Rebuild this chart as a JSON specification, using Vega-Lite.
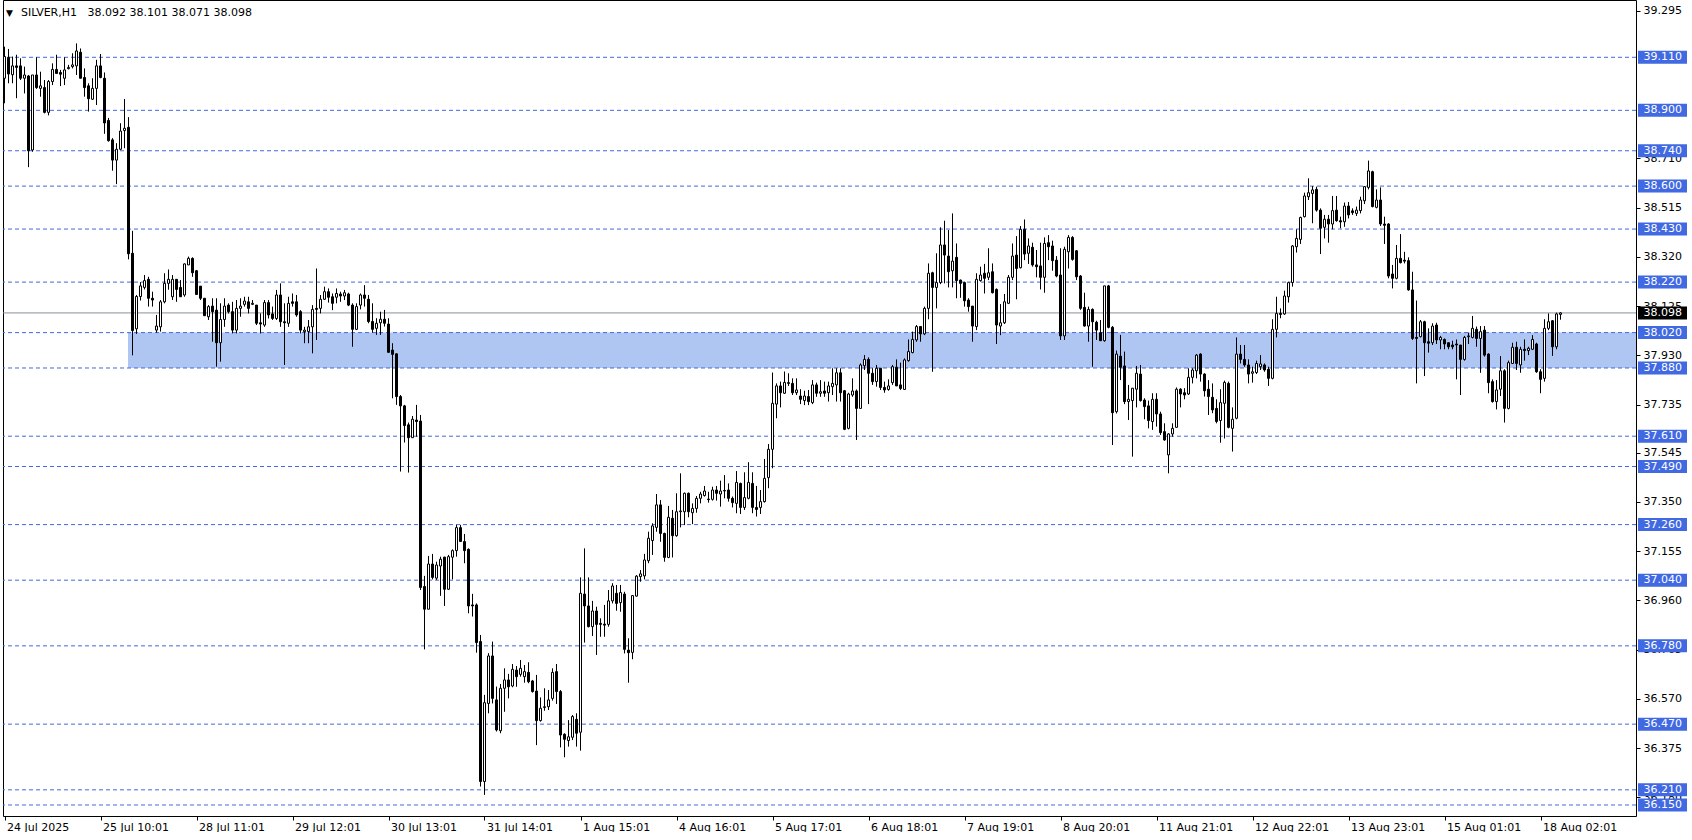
{
"$schema": "https://vega.github.io/schema/vega-lite/v6.json",
"width": 1633, "height": 816,
"padding": {"left": 2, "top": 0, "right": 0, "bottom": 0},
"autosize": {"type": "pad"},
"background": "white",
"config": {"view": {"stroke": "black", "strokeWidth": 1}, "font": "DejaVu Sans"},
"resolve": {"axis": {"x": "independent", "y": "independent"}},
"datasets": {
"levels": [{"v":39.110,"lab":"39.110"},{"v":38.900,"lab":"38.900"},{"v":38.740,"lab":"38.740"},{"v":38.600,"lab":"38.600"},{"v":38.430,"lab":"38.430"},{"v":38.220,"lab":"38.220"},{"v":38.020,"lab":"38.020"},{"v":37.880,"lab":"37.880"},{"v":37.610,"lab":"37.610"},{"v":37.490,"lab":"37.490"},{"v":37.260,"lab":"37.260"},{"v":37.040,"lab":"37.040"},{"v":36.780,"lab":"36.780"},{"v":36.470,"lab":"36.470"},{"v":36.210,"lab":"36.210"},{"v":36.150,"lab":"36.150"}],
"bars": [
{"i":0,"o":39.027,"h":39.152,"l":38.928,"c":39.113},
{"i":1,"o":39.11,"h":39.143,"l":39.007,"c":39.044},
{"i":2,"o":39.041,"h":39.113,"l":39.007,"c":39.076},
{"i":3,"o":39.076,"h":39.12,"l":38.948,"c":39.07},
{"i":4,"o":39.076,"h":39.106,"l":39.02,"c":39.027},
{"i":5,"o":39.027,"h":39.073,"l":38.967,"c":39.04},
{"i":6,"o":39.036,"h":39.04,"l":38.675,"c":38.74},
{"i":7,"o":38.743,"h":39.04,"l":38.736,"c":39.04},
{"i":8,"o":39.04,"h":39.11,"l":38.985,"c":38.99},
{"i":9,"o":38.987,"h":39.053,"l":38.954,"c":38.997},
{"i":10,"o":38.99,"h":39.02,"l":38.888,"c":38.892},
{"i":11,"o":38.892,"h":39.02,"l":38.88,"c":39.014},
{"i":12,"o":39.014,"h":39.086,"l":39.0,"c":39.062},
{"i":13,"o":39.062,"h":39.12,"l":39.046,"c":39.046},
{"i":14,"o":39.05,"h":39.06,"l":38.996,"c":39.043},
{"i":15,"o":39.027,"h":39.11,"l":39.0,"c":39.06},
{"i":16,"o":39.065,"h":39.08,"l":39.062,"c":39.07},
{"i":17,"o":39.073,"h":39.126,"l":39.066,"c":39.08},
{"i":18,"o":39.076,"h":39.165,"l":39.04,"c":39.135},
{"i":19,"o":39.13,"h":39.145,"l":39.027,"c":39.027},
{"i":20,"o":39.03,"h":39.066,"l":38.954,"c":38.99},
{"i":21,"o":38.997,"h":39.007,"l":38.895,"c":38.946},
{"i":22,"o":38.944,"h":39.027,"l":38.941,"c":38.987},
{"i":23,"o":38.987,"h":39.10,"l":38.921,"c":39.076},
{"i":24,"o":39.076,"h":39.123,"l":39.027,"c":39.03},
{"i":25,"o":39.027,"h":39.05,"l":38.807,"c":38.85},
{"i":26,"o":38.86,"h":38.87,"l":38.776,"c":38.78},
{"i":27,"o":38.783,"h":38.79,"l":38.661,"c":38.703},
{"i":28,"o":38.703,"h":38.77,"l":38.608,"c":38.746},
{"i":29,"o":38.746,"h":38.849,"l":38.743,"c":38.818},
{"i":30,"o":38.82,"h":38.945,"l":38.75,"c":38.829},
{"i":31,"o":38.833,"h":38.873,"l":38.31,"c":38.332},
{"i":32,"o":38.334,"h":38.423,"l":37.93,"c":38.028},
{"i":33,"o":38.035,"h":38.169,"l":38.015,"c":38.163},
{"i":34,"o":38.163,"h":38.22,"l":38.147,"c":38.205},
{"i":35,"o":38.199,"h":38.248,"l":38.191,"c":38.226},
{"i":36,"o":38.231,"h":38.241,"l":38.123,"c":38.156},
{"i":37,"o":38.156,"h":38.182,"l":38.123,"c":38.149},
{"i":38,"o":38.030,"h":38.090,"l":38.02,"c":38.046},
{"i":39,"o":38.043,"h":38.149,"l":38.024,"c":38.142},
{"i":40,"o":38.142,"h":38.255,"l":38.136,"c":38.215},
{"i":41,"o":38.215,"h":38.27,"l":38.19,"c":38.231},
{"i":42,"o":38.162,"h":38.248,"l":38.149,"c":38.231},
{"i":43,"o":38.231,"h":38.231,"l":38.142,"c":38.191},
{"i":44,"o":38.199,"h":38.228,"l":38.162,"c":38.162},
{"i":45,"o":38.169,"h":38.294,"l":38.162,"c":38.292},
{"i":46,"o":38.288,"h":38.321,"l":38.288,"c":38.314},
{"i":47,"o":38.314,"h":38.318,"l":38.241,"c":38.257},
{"i":48,"o":38.265,"h":38.268,"l":38.169,"c":38.171},
{"i":49,"o":38.204,"h":38.204,"l":38.149,"c":38.156},
{"i":50,"o":38.156,"h":38.156,"l":38.086,"c":38.087},
{"i":51,"o":38.083,"h":38.129,"l":38.07,"c":38.123},
{"i":52,"o":38.125,"h":38.156,"l":37.984,"c":38.103},
{"i":53,"o":38.109,"h":38.156,"l":37.885,"c":37.98},
{"i":54,"o":37.98,"h":38.136,"l":37.905,"c":38.072},
{"i":55,"o":38.072,"h":38.156,"l":38.043,"c":38.125},
{"i":56,"o":38.129,"h":38.136,"l":38.096,"c":38.103},
{"i":57,"o":38.103,"h":38.142,"l":38.017,"c":38.030},
{"i":58,"o":38.030,"h":38.149,"l":38.017,"c":38.116},
{"i":59,"o":38.116,"h":38.156,"l":38.083,"c":38.125},
{"i":60,"o":38.132,"h":38.162,"l":38.123,"c":38.145},
{"i":61,"o":38.142,"h":38.162,"l":38.096,"c":38.116},
{"i":62,"o":38.132,"h":38.149,"l":38.129,"c":38.136},
{"i":63,"o":38.129,"h":38.129,"l":38.05,"c":38.057},
{"i":64,"o":38.059,"h":38.096,"l":38.017,"c":38.054},
{"i":65,"o":38.050,"h":38.149,"l":38.043,"c":38.139},
{"i":66,"o":38.139,"h":38.149,"l":38.076,"c":38.090},
{"i":67,"o":38.094,"h":38.123,"l":38.07,"c":38.076},
{"i":68,"o":38.076,"h":38.189,"l":38.07,"c":38.169},
{"i":69,"o":38.169,"h":38.215,"l":38.043,"c":38.063},
{"i":70,"o":38.063,"h":38.136,"l":37.892,"c":38.059},
{"i":71,"o":38.057,"h":38.162,"l":38.043,"c":38.136},
{"i":72,"o":38.142,"h":38.175,"l":38.123,"c":38.136},
{"i":73,"o":38.142,"h":38.169,"l":38.083,"c":38.090},
{"i":74,"o":38.103,"h":38.109,"l":38.017,"c":38.030},
{"i":75,"o":38.024,"h":38.043,"l":37.978,"c":38.030},
{"i":76,"o":38.024,"h":38.07,"l":37.978,"c":38.043},
{"i":77,"o":38.043,"h":38.129,"l":37.938,"c":38.112},
{"i":78,"o":38.116,"h":38.274,"l":37.991,"c":38.112},
{"i":79,"o":38.116,"h":38.169,"l":38.096,"c":38.152},
{"i":80,"o":38.152,"h":38.202,"l":38.149,"c":38.182},
{"i":81,"o":38.182,"h":38.195,"l":38.139,"c":38.160},
{"i":82,"o":38.162,"h":38.175,"l":38.109,"c":38.136},
{"i":83,"o":38.160,"h":38.195,"l":38.136,"c":38.175},
{"i":84,"o":38.173,"h":38.182,"l":38.142,"c":38.165},
{"i":85,"o":38.165,"h":38.189,"l":38.149,"c":38.178},
{"i":86,"o":38.173,"h":38.178,"l":38.125,"c":38.129},
{"i":87,"o":38.129,"h":38.136,"l":37.964,"c":38.033},
{"i":88,"o":38.033,"h":38.136,"l":38.030,"c":38.123},
{"i":89,"o":38.129,"h":38.175,"l":38.112,"c":38.169},
{"i":90,"o":38.169,"h":38.208,"l":38.123,"c":38.156},
{"i":91,"o":38.152,"h":38.169,"l":38.057,"c":38.064},
{"i":92,"o":38.064,"h":38.136,"l":38.020,"c":38.033},
{"i":93,"o":38.037,"h":38.077,"l":38.011,"c":38.057},
{"i":94,"o":38.059,"h":38.103,"l":38.011,"c":38.073},
{"i":95,"o":38.073,"h":38.11,"l":38.044,"c":38.057},
{"i":96,"o":38.054,"h":38.077,"l":37.941,"c":37.942},
{"i":97,"o":37.951,"h":37.978,"l":37.760,"c":37.934},
{"i":98,"o":37.936,"h":37.938,"l":37.734,"c":37.767},
{"i":99,"o":37.767,"h":37.773,"l":37.470,"c":37.730},
{"i":100,"o":37.730,"h":37.734,"l":37.585,"c":37.652},
{"i":101,"o":37.655,"h":37.664,"l":37.466,"c":37.604},
{"i":102,"o":37.604,"h":37.690,"l":37.604,"c":37.677},
{"i":103,"o":37.674,"h":37.734,"l":37.608,"c":37.668},
{"i":104,"o":37.670,"h":37.694,"l":37.001,"c":37.011},
{"i":105,"o":37.015,"h":37.057,"l":36.766,"c":36.925},
{"i":106,"o":36.925,"h":37.136,"l":36.925,"c":37.104},
{"i":107,"o":37.104,"h":37.144,"l":37.043,"c":37.051},
{"i":108,"o":37.048,"h":37.113,"l":37.041,"c":37.100},
{"i":109,"o":37.096,"h":37.133,"l":36.978,"c":37.123},
{"i":110,"o":37.131,"h":37.133,"l":36.938,"c":37.004},
{"i":111,"o":37.004,"h":37.140,"l":37.001,"c":37.133},
{"i":112,"o":37.131,"h":37.162,"l":37.043,"c":37.157},
{"i":113,"o":37.157,"h":37.259,"l":37.133,"c":37.248},
{"i":114,"o":37.248,"h":37.259,"l":37.193,"c":37.193},
{"i":115,"o":37.193,"h":37.223,"l":37.107,"c":37.157},
{"i":116,"o":37.162,"h":37.166,"l":36.909,"c":36.938},
{"i":117,"o":36.942,"h":36.986,"l":36.896,"c":36.938},
{"i":118,"o":36.942,"h":36.948,"l":36.753,"c":36.793},
{"i":119,"o":36.797,"h":36.823,"l":36.223,"c":36.243},
{"i":120,"o":36.243,"h":36.586,"l":36.190,"c":36.555},
{"i":121,"o":36.552,"h":36.751,"l":36.513,"c":36.740},
{"i":122,"o":36.740,"h":36.797,"l":36.552,"c":36.572},
{"i":123,"o":36.566,"h":36.619,"l":36.441,"c":36.447},
{"i":124,"o":36.444,"h":36.629,"l":36.434,"c":36.612},
{"i":125,"o":36.612,"h":36.691,"l":36.519,"c":36.645},
{"i":126,"o":36.645,"h":36.669,"l":36.572,"c":36.618},
{"i":127,"o":36.621,"h":36.708,"l":36.616,"c":36.687},
{"i":128,"o":36.684,"h":36.700,"l":36.618,"c":36.658},
{"i":129,"o":36.667,"h":36.724,"l":36.658,"c":36.691},
{"i":130,"o":36.658,"h":36.704,"l":36.634,"c":36.678},
{"i":131,"o":36.675,"h":36.715,"l":36.632,"c":36.638},
{"i":132,"o":36.641,"h":36.645,"l":36.595,"c":36.599},
{"i":133,"o":36.601,"h":36.665,"l":36.387,"c":36.484},
{"i":134,"o":36.484,"h":36.576,"l":36.480,"c":36.533},
{"i":135,"o":36.536,"h":36.612,"l":36.523,"c":36.539},
{"i":136,"o":36.539,"h":36.605,"l":36.526,"c":36.566},
{"i":137,"o":36.572,"h":36.691,"l":36.563,"c":36.675},
{"i":138,"o":36.678,"h":36.708,"l":36.550,"c":36.599},
{"i":139,"o":36.599,"h":36.605,"l":36.378,"c":36.427},
{"i":140,"o":36.430,"h":36.434,"l":36.339,"c":36.410},
{"i":141,"o":36.405,"h":36.486,"l":36.381,"c":36.420},
{"i":142,"o":36.418,"h":36.506,"l":36.407,"c":36.500},
{"i":143,"o":36.489,"h":36.513,"l":36.381,"c":36.434},
{"i":144,"o":36.438,"h":37.051,"l":36.365,"c":36.988},
{"i":145,"o":36.985,"h":37.166,"l":36.793,"c":36.938},
{"i":146,"o":36.938,"h":37.051,"l":36.853,"c":36.856},
{"i":147,"o":36.856,"h":36.958,"l":36.819,"c":36.918},
{"i":148,"o":36.918,"h":36.935,"l":36.744,"c":36.865},
{"i":149,"o":36.869,"h":36.889,"l":36.816,"c":36.865},
{"i":150,"o":36.866,"h":36.942,"l":36.816,"c":36.862},
{"i":151,"o":36.865,"h":37.001,"l":36.856,"c":36.958},
{"i":152,"o":36.958,"h":37.028,"l":36.948,"c":37.017},
{"i":153,"o":36.988,"h":37.021,"l":36.919,"c":36.948},
{"i":154,"o":36.951,"h":37.021,"l":36.915,"c":36.991},
{"i":155,"o":36.985,"h":36.994,"l":36.750,"c":36.766},
{"i":156,"o":36.763,"h":36.810,"l":36.634,"c":36.753},
{"i":157,"o":36.754,"h":36.981,"l":36.727,"c":36.979},
{"i":158,"o":36.977,"h":37.060,"l":36.975,"c":37.056},
{"i":159,"o":37.054,"h":37.080,"l":37.034,"c":37.065},
{"i":160,"o":37.057,"h":37.144,"l":37.043,"c":37.120},
{"i":161,"o":37.117,"h":37.232,"l":37.107,"c":37.206},
{"i":162,"o":37.197,"h":37.265,"l":37.140,"c":37.255},
{"i":163,"o":37.249,"h":37.381,"l":37.232,"c":37.338},
{"i":164,"o":37.338,"h":37.357,"l":37.192,"c":37.225},
{"i":165,"o":37.225,"h":37.228,"l":37.113,"c":37.130},
{"i":166,"o":37.130,"h":37.334,"l":37.127,"c":37.289},
{"i":167,"o":37.285,"h":37.318,"l":37.130,"c":37.216},
{"i":168,"o":37.216,"h":37.384,"l":37.212,"c":37.311},
{"i":169,"o":37.311,"h":37.463,"l":37.249,"c":37.314},
{"i":170,"o":37.311,"h":37.387,"l":37.258,"c":37.384},
{"i":171,"o":37.384,"h":37.387,"l":37.289,"c":37.311},
{"i":172,"o":37.307,"h":37.344,"l":37.262,"c":37.324},
{"i":173,"o":37.324,"h":37.373,"l":37.307,"c":37.364},
{"i":174,"o":37.364,"h":37.390,"l":37.344,"c":37.381},
{"i":175,"o":37.375,"h":37.413,"l":37.371,"c":37.393},
{"i":176,"o":37.361,"h":37.390,"l":37.347,"c":37.359},
{"i":177,"o":37.360,"h":37.410,"l":37.355,"c":37.397},
{"i":178,"o":37.397,"h":37.413,"l":37.355,"c":37.384},
{"i":179,"o":37.381,"h":37.434,"l":37.331,"c":37.393},
{"i":180,"o":37.395,"h":37.456,"l":37.364,"c":37.393},
{"i":181,"o":37.397,"h":37.423,"l":37.351,"c":37.364},
{"i":182,"o":37.364,"h":37.371,"l":37.328,"c":37.347},
{"i":183,"o":37.344,"h":37.472,"l":37.305,"c":37.427},
{"i":184,"o":37.423,"h":37.426,"l":37.302,"c":37.328},
{"i":185,"o":37.328,"h":37.467,"l":37.318,"c":37.367},
{"i":186,"o":37.364,"h":37.507,"l":37.360,"c":37.427},
{"i":187,"o":37.423,"h":37.467,"l":37.305,"c":37.328},
{"i":188,"o":37.328,"h":37.413,"l":37.292,"c":37.320},
{"i":189,"o":37.328,"h":37.397,"l":37.302,"c":37.351},
{"i":190,"o":37.351,"h":37.520,"l":37.347,"c":37.443},
{"i":191,"o":37.446,"h":37.579,"l":37.404,"c":37.558},
{"i":192,"o":37.558,"h":37.862,"l":37.483,"c":37.740},
{"i":193,"o":37.737,"h":37.819,"l":37.681,"c":37.809},
{"i":194,"o":37.809,"h":37.826,"l":37.724,"c":37.782},
{"i":195,"o":37.780,"h":37.866,"l":37.777,"c":37.823},
{"i":196,"o":37.822,"h":37.859,"l":37.809,"c":37.819},
{"i":197,"o":37.819,"h":37.839,"l":37.773,"c":37.782},
{"i":198,"o":37.782,"h":37.839,"l":37.773,"c":37.793},
{"i":199,"o":37.769,"h":37.796,"l":37.737,"c":37.756},
{"i":200,"o":37.751,"h":37.790,"l":37.733,"c":37.769},
{"i":201,"o":37.767,"h":37.793,"l":37.733,"c":37.747},
{"i":202,"o":37.743,"h":37.832,"l":37.737,"c":37.813},
{"i":203,"o":37.813,"h":37.822,"l":37.766,"c":37.780},
{"i":204,"o":37.780,"h":37.832,"l":37.766,"c":37.786},
{"i":205,"o":37.789,"h":37.826,"l":37.766,"c":37.780},
{"i":206,"o":37.782,"h":37.826,"l":37.747,"c":37.809},
{"i":207,"o":37.806,"h":37.879,"l":37.773,"c":37.819},
{"i":208,"o":37.813,"h":37.879,"l":37.747,"c":37.861},
{"i":209,"o":37.861,"h":37.879,"l":37.747,"c":37.782},
{"i":210,"o":37.790,"h":37.793,"l":37.634,"c":37.637},
{"i":211,"o":37.641,"h":37.782,"l":37.637,"c":37.777},
{"i":212,"o":37.773,"h":37.839,"l":37.766,"c":37.789},
{"i":213,"o":37.789,"h":37.795,"l":37.595,"c":37.720},
{"i":214,"o":37.720,"h":37.898,"l":37.720,"c":37.892},
{"i":215,"o":37.889,"h":37.931,"l":37.872,"c":37.914},
{"i":216,"o":37.914,"h":37.922,"l":37.737,"c":37.859},
{"i":217,"o":37.859,"h":37.879,"l":37.813,"c":37.826},
{"i":218,"o":37.826,"h":37.892,"l":37.806,"c":37.879},
{"i":219,"o":37.879,"h":37.879,"l":37.793,"c":37.803},
{"i":220,"o":37.803,"h":37.826,"l":37.782,"c":37.793},
{"i":221,"o":37.795,"h":37.835,"l":37.790,"c":37.809},
{"i":222,"o":37.822,"h":37.892,"l":37.813,"c":37.885},
{"i":223,"o":37.883,"h":37.914,"l":37.809,"c":37.809},
{"i":224,"o":37.813,"h":37.901,"l":37.793,"c":37.799},
{"i":225,"o":37.795,"h":37.918,"l":37.793,"c":37.912},
{"i":226,"o":37.909,"h":37.993,"l":37.905,"c":37.945},
{"i":227,"o":37.941,"h":38.024,"l":37.938,"c":37.993},
{"i":228,"o":37.991,"h":38.050,"l":37.984,"c":38.044},
{"i":229,"o":38.044,"h":38.046,"l":37.984,"c":38.015},
{"i":230,"o":38.015,"h":38.123,"l":38.010,"c":38.116},
{"i":231,"o":38.116,"h":38.294,"l":38.073,"c":38.255},
{"i":232,"o":38.257,"h":38.261,"l":37.865,"c":38.199},
{"i":233,"o":38.199,"h":38.334,"l":38.116,"c":38.218},
{"i":234,"o":38.218,"h":38.437,"l":38.212,"c":38.367},
{"i":235,"o":38.367,"h":38.463,"l":38.215,"c":38.327},
{"i":236,"o":38.323,"h":38.426,"l":38.199,"c":38.261},
{"i":237,"o":38.265,"h":38.492,"l":38.199,"c":38.303},
{"i":238,"o":38.318,"h":38.373,"l":38.156,"c":38.226},
{"i":239,"o":38.228,"h":38.230,"l":38.158,"c":38.215},
{"i":240,"o":38.218,"h":38.222,"l":38.123,"c":38.146},
{"i":241,"o":38.149,"h":38.156,"l":38.103,"c":38.123},
{"i":242,"o":38.125,"h":38.125,"l":37.984,"c":38.046},
{"i":243,"o":38.044,"h":38.255,"l":38.030,"c":38.231},
{"i":244,"o":38.226,"h":38.281,"l":38.222,"c":38.248},
{"i":245,"o":38.255,"h":38.292,"l":38.175,"c":38.235},
{"i":246,"o":38.239,"h":38.354,"l":38.228,"c":38.257},
{"i":247,"o":38.261,"h":38.294,"l":38.175,"c":38.178},
{"i":248,"o":38.191,"h":38.195,"l":37.975,"c":38.050},
{"i":249,"o":38.046,"h":38.133,"l":38.010,"c":38.059},
{"i":250,"o":38.059,"h":38.173,"l":38.054,"c":38.142},
{"i":251,"o":38.136,"h":38.248,"l":38.133,"c":38.239},
{"i":252,"o":38.239,"h":38.373,"l":38.228,"c":38.323},
{"i":253,"o":38.327,"h":38.402,"l":38.152,"c":38.274},
{"i":254,"o":38.277,"h":38.442,"l":38.274,"c":38.429},
{"i":255,"o":38.429,"h":38.468,"l":38.307,"c":38.331},
{"i":256,"o":38.334,"h":38.393,"l":38.292,"c":38.363},
{"i":257,"o":38.358,"h":38.376,"l":38.281,"c":38.288},
{"i":258,"o":38.288,"h":38.347,"l":38.239,"c":38.281},
{"i":259,"o":38.284,"h":38.376,"l":38.191,"c":38.239},
{"i":260,"o":38.239,"h":38.397,"l":38.178,"c":38.373},
{"i":261,"o":38.376,"h":38.406,"l":38.307,"c":38.360},
{"i":262,"o":38.363,"h":38.384,"l":38.265,"c":38.305},
{"i":263,"o":38.307,"h":38.323,"l":38.239,"c":38.244},
{"i":264,"o":38.248,"h":38.354,"l":37.991,"c":38.007},
{"i":265,"o":38.007,"h":38.360,"l":37.991,"c":38.350},
{"i":266,"o":38.340,"h":38.406,"l":38.274,"c":38.397},
{"i":267,"o":38.397,"h":38.402,"l":38.305,"c":38.310},
{"i":268,"o":38.344,"h":38.347,"l":38.228,"c":38.241},
{"i":269,"o":38.244,"h":38.248,"l":38.110,"c":38.116},
{"i":270,"o":38.120,"h":38.178,"l":38.044,"c":38.046},
{"i":271,"o":38.046,"h":38.123,"l":37.984,"c":38.112},
{"i":272,"o":38.112,"h":38.116,"l":37.885,"c":38.063},
{"i":273,"o":38.061,"h":38.067,"l":37.991,"c":38.030},
{"i":274,"o":38.020,"h":38.070,"l":37.988,"c":37.988},
{"i":275,"o":37.988,"h":38.205,"l":37.984,"c":38.205},
{"i":276,"o":38.205,"h":38.209,"l":38.037,"c":38.041},
{"i":277,"o":38.041,"h":38.046,"l":37.575,"c":37.703},
{"i":278,"o":37.707,"h":37.949,"l":37.700,"c":37.935},
{"i":279,"o":37.927,"h":38.011,"l":37.832,"c":37.883},
{"i":280,"o":37.888,"h":37.945,"l":37.737,"c":37.747},
{"i":281,"o":37.747,"h":37.813,"l":37.674,"c":37.756},
{"i":282,"o":37.751,"h":37.800,"l":37.529,"c":37.800},
{"i":283,"o":37.796,"h":37.888,"l":37.724,"c":37.859},
{"i":284,"o":37.856,"h":37.892,"l":37.747,"c":37.751},
{"i":285,"o":37.753,"h":37.760,"l":37.677,"c":37.727},
{"i":286,"o":37.730,"h":37.751,"l":37.641,"c":37.672},
{"i":287,"o":37.668,"h":37.780,"l":37.635,"c":37.756},
{"i":288,"o":37.756,"h":37.780,"l":37.648,"c":37.698},
{"i":289,"o":37.698,"h":37.707,"l":37.615,"c":37.624},
{"i":290,"o":37.628,"h":37.661,"l":37.592,"c":37.595},
{"i":291,"o":37.536,"h":37.622,"l":37.463,"c":37.619},
{"i":292,"o":37.619,"h":37.661,"l":37.608,"c":37.641},
{"i":293,"o":37.645,"h":37.803,"l":37.645,"c":37.796},
{"i":294,"o":37.796,"h":37.800,"l":37.724,"c":37.777},
{"i":295,"o":37.782,"h":37.800,"l":37.756,"c":37.773},
{"i":296,"o":37.777,"h":37.879,"l":37.773,"c":37.843},
{"i":297,"o":37.843,"h":37.879,"l":37.819,"c":37.872},
{"i":298,"o":37.869,"h":37.935,"l":37.839,"c":37.931},
{"i":299,"o":37.935,"h":37.938,"l":37.826,"c":37.856},
{"i":300,"o":37.856,"h":37.859,"l":37.767,"c":37.790},
{"i":301,"o":37.796,"h":37.832,"l":37.694,"c":37.767},
{"i":302,"o":37.764,"h":37.819,"l":37.701,"c":37.714},
{"i":303,"o":37.720,"h":37.756,"l":37.661,"c":37.668},
{"i":304,"o":37.672,"h":37.796,"l":37.584,"c":37.743},
{"i":305,"o":37.740,"h":37.830,"l":37.601,"c":37.823},
{"i":306,"o":37.819,"h":37.826,"l":37.641,"c":37.645},
{"i":307,"o":37.641,"h":37.724,"l":37.549,"c":37.677},
{"i":308,"o":37.681,"h":38.001,"l":37.677,"c":37.935},
{"i":309,"o":37.935,"h":37.971,"l":37.898,"c":37.914},
{"i":310,"o":37.914,"h":37.971,"l":37.885,"c":37.892},
{"i":311,"o":37.892,"h":37.914,"l":37.819,"c":37.856},
{"i":312,"o":37.859,"h":37.885,"l":37.822,"c":37.865},
{"i":313,"o":37.862,"h":37.909,"l":37.856,"c":37.898},
{"i":314,"o":37.885,"h":37.931,"l":37.872,"c":37.896},
{"i":315,"o":37.892,"h":37.898,"l":37.865,"c":37.872},
{"i":316,"o":37.875,"h":37.885,"l":37.809,"c":37.839},
{"i":317,"o":37.839,"h":38.073,"l":37.835,"c":38.033},
{"i":318,"o":38.033,"h":38.162,"l":38.001,"c":38.096},
{"i":319,"o":38.096,"h":38.116,"l":38.077,"c":38.092},
{"i":320,"o":38.094,"h":38.186,"l":38.090,"c":38.165},
{"i":321,"o":38.162,"h":38.222,"l":38.139,"c":38.218},
{"i":322,"o":38.218,"h":38.367,"l":38.202,"c":38.363},
{"i":323,"o":38.360,"h":38.429,"l":38.337,"c":38.393},
{"i":324,"o":38.389,"h":38.479,"l":38.371,"c":38.476},
{"i":325,"o":38.479,"h":38.574,"l":38.476,"c":38.561},
{"i":326,"o":38.558,"h":38.631,"l":38.545,"c":38.574},
{"i":327,"o":38.571,"h":38.600,"l":38.453,"c":38.585},
{"i":328,"o":38.587,"h":38.598,"l":38.499,"c":38.505},
{"i":329,"o":38.505,"h":38.512,"l":38.331,"c":38.433},
{"i":330,"o":38.437,"h":38.486,"l":38.393,"c":38.469},
{"i":331,"o":38.469,"h":38.486,"l":38.376,"c":38.450},
{"i":332,"o":38.450,"h":38.561,"l":38.429,"c":38.503},
{"i":333,"o":38.505,"h":38.561,"l":38.459,"c":38.463},
{"i":334,"o":38.463,"h":38.479,"l":38.433,"c":38.458},
{"i":335,"o":38.459,"h":38.535,"l":38.439,"c":38.521},
{"i":336,"o":38.521,"h":38.537,"l":38.472,"c":38.486},
{"i":337,"o":38.502,"h":38.512,"l":38.486,"c":38.495},
{"i":338,"o":38.492,"h":38.519,"l":38.482,"c":38.505},
{"i":339,"o":38.503,"h":38.558,"l":38.492,"c":38.545},
{"i":340,"o":38.542,"h":38.600,"l":38.529,"c":38.598},
{"i":341,"o":38.595,"h":38.701,"l":38.587,"c":38.660},
{"i":342,"o":38.657,"h":38.661,"l":38.516,"c":38.519},
{"i":343,"o":38.516,"h":38.587,"l":38.512,"c":38.545},
{"i":344,"o":38.545,"h":38.595,"l":38.442,"c":38.450},
{"i":345,"o":38.450,"h":38.479,"l":38.371,"c":38.445},
{"i":346,"o":38.450,"h":38.453,"l":38.235,"c":38.244},
{"i":347,"o":38.252,"h":38.288,"l":38.195,"c":38.235},
{"i":348,"o":38.235,"h":38.367,"l":38.231,"c":38.314},
{"i":349,"o":38.314,"h":38.410,"l":38.294,"c":38.297},
{"i":350,"o":38.307,"h":38.340,"l":38.294,"c":38.303},
{"i":351,"o":38.305,"h":38.318,"l":38.186,"c":38.189},
{"i":352,"o":38.189,"h":38.261,"l":37.991,"c":37.997},
{"i":353,"o":38.001,"h":38.147,"l":37.819,"c":37.997},
{"i":354,"o":38.004,"h":38.070,"l":38.001,"c":38.063},
{"i":355,"o":38.063,"h":38.067,"l":37.848,"c":37.980},
{"i":356,"o":37.984,"h":38.037,"l":37.941,"c":37.978},
{"i":357,"o":37.980,"h":38.057,"l":37.971,"c":38.046},
{"i":358,"o":38.050,"h":38.059,"l":37.975,"c":37.991},
{"i":359,"o":37.991,"h":38.007,"l":37.954,"c":38.001},
{"i":360,"o":37.993,"h":37.997,"l":37.954,"c":37.975},
{"i":361,"o":37.980,"h":37.980,"l":37.954,"c":37.964},
{"i":362,"o":37.971,"h":37.988,"l":37.954,"c":37.964},
{"i":363,"o":37.975,"h":37.993,"l":37.835,"c":37.971},
{"i":364,"o":37.971,"h":37.971,"l":37.773,"c":37.914},
{"i":365,"o":37.914,"h":38.007,"l":37.909,"c":38.001},
{"i":366,"o":38.004,"h":38.020,"l":37.975,"c":38.007},
{"i":367,"o":38.001,"h":38.086,"l":37.997,"c":38.037},
{"i":368,"o":38.033,"h":38.044,"l":37.964,"c":37.997},
{"i":369,"o":37.997,"h":38.046,"l":37.861,"c":38.024},
{"i":370,"o":38.030,"h":38.046,"l":37.925,"c":37.931},
{"i":371,"o":37.935,"h":37.938,"l":37.780,"c":37.822},
{"i":372,"o":37.826,"h":37.835,"l":37.743,"c":37.747},
{"i":373,"o":37.747,"h":37.832,"l":37.716,"c":37.793},
{"i":374,"o":37.796,"h":37.927,"l":37.769,"c":37.869},
{"i":375,"o":37.869,"h":37.875,"l":37.664,"c":37.720},
{"i":376,"o":37.720,"h":37.909,"l":37.716,"c":37.901},
{"i":377,"o":37.898,"h":37.980,"l":37.896,"c":37.962},
{"i":378,"o":37.962,"h":37.984,"l":37.872,"c":37.898},
{"i":379,"o":37.892,"h":37.964,"l":37.861,"c":37.954},
{"i":380,"o":37.954,"h":37.993,"l":37.909,"c":37.949},
{"i":381,"o":37.949,"h":37.964,"l":37.931,"c":37.958},
{"i":382,"o":37.954,"h":38.010,"l":37.951,"c":37.993},
{"i":383,"o":37.975,"h":37.980,"l":37.861,"c":37.865},
{"i":384,"o":37.865,"h":37.875,"l":37.780,"c":37.835},
{"i":385,"o":37.839,"h":38.073,"l":37.826,"c":38.037},
{"i":386,"o":38.037,"h":38.096,"l":38.030,"c":38.063},
{"i":387,"o":38.067,"h":38.070,"l":37.928,"c":37.964},
{"i":388,"o":37.964,"h":38.099,"l":37.954,"c":38.094},
{"i":389,"o":38.092,"h":38.101,"l":38.071,"c":38.098}
]},
"layer": [
{"data": {"values": [{}]},
 "mark": {"type": "rect", "color": "#b0c6f2"},
 "encoding": {
  "x": {"datum": 30.875, "type": "quantitative", "scale": {"domain": [-0.375, 407.875], "nice": false, "zero": false, "padding": 0}, "axis": null},
  "x2": {"datum": 407.875},
  "y": {"datum": 37.88, "type": "quantitative", "scale": {"domain": [36.1064, 39.3368], "nice": false, "zero": false, "padding": 0}, "axis": null},
  "y2": {"datum": 38.02}}},
{"data": {"name": "levels"},
 "mark": {"type": "rule", "color": "#4169e1", "strokeWidth": 1, "strokeDash": [4, 3]},
 "encoding": {
  "y": {"field": "v", "type": "quantitative", "scale": {"domain": [36.1064, 39.3368], "nice": false, "zero": false, "padding": 0}, "axis": null}}},
{"data": {"values": [{}]},
 "mark": {"type": "rule", "color": "#87919b", "strokeWidth": 1},
 "encoding": {
  "y": {"datum": 38.098, "type": "quantitative", "scale": {"domain": [36.1064, 39.3368], "nice": false, "zero": false, "padding": 0}, "axis": null}}},
{"data": {"name": "bars"},
 "mark": {"type": "rule", "color": "black", "strokeWidth": 1},
 "encoding": {
  "x": {"field": "i", "type": "quantitative", "scale": {"domain": [-0.375, 407.875], "nice": false, "zero": false, "padding": 0},
        "axis": {"orient": "bottom", "values": [0,24,48,72,96,120,144,168,192,216,240,264,288,312,336,360,384],
                 "labelExpr": "['24 Jul 2025','25 Jul 10:01','28 Jul 11:01','29 Jul 12:01','30 Jul 13:01','31 Jul 14:01','1 Aug 15:01','4 Aug 16:01','5 Aug 17:01','6 Aug 18:01','7 Aug 19:01','8 Aug 20:01','11 Aug 21:01','12 Aug 22:01','13 Aug 23:01','15 Aug 01:01','18 Aug 02:01'][round(datum.value/24)]",
                 "labelAlign": "left", "labelFont": "DejaVu Sans", "labelFontSize": 11, "labelColor": "black", "tickColor": "black", "tickSize": 4,
                 "labelPadding": 1, "domain": false, "grid": false, "title": null, "labelOverlap": false, "labelFlush": false, "labelBound": false, "labelOffset": 2, "zindex": 0}},
  "y": {"field": "l", "type": "quantitative", "scale": {"domain": [36.1064, 39.3368], "nice": false, "zero": false, "padding": 0},
        "axis": {"orient": "right", "values": [39.295, 38.710, 38.515, 38.320, 38.125, 37.930, 37.735, 37.545, 37.350, 37.155, 36.960, 36.765, 36.570, 36.375, 36.180],
                 "format": ".3f", "labelFont": "DejaVu Sans", "labelFontSize": 11, "labelColor": "black", "tickColor": "black", "tickSize": 4,
                 "labelPadding": 3, "domain": false, "grid": false, "title": null, "labelOverlap": false, "labelFlush": false, "labelBound": false, "zindex": 0}},
  "y2": {"field": "h"}}},
{"data": {"name": "bars"},
 "mark": {"type": "bar", "size": 2, "stroke": "black", "strokeWidth": 1},
 "encoding": {
  "x": {"field": "i", "type": "quantitative", "scale": {"domain": [-0.375, 407.875], "nice": false, "zero": false, "padding": 0}, "axis": null},
  "y": {"field": "o", "type": "quantitative", "scale": {"domain": [36.1064, 39.3368], "nice": false, "zero": false, "padding": 0}, "axis": null},
  "y2": {"field": "c"},
  "fill": {"condition": {"test": "datum.c >= datum.o", "value": "white"}, "value": "black"}}},
{"data": {"name": "levels"},
 "mark": {"type": "bar", "size": 13, "color": "#4169e1"},
 "encoding": {
  "x": {"datum": 408.375, "type": "quantitative", "scale": {"domain": [-0.375, 407.875], "nice": false, "zero": false, "padding": 0}, "axis": null},
  "x2": {"datum": 420.625},
  "y": {"field": "v", "type": "quantitative", "scale": {"domain": [36.1064, 39.3368], "nice": false, "zero": false, "padding": 0}, "axis": null}}},
{"data": {"name": "levels"},
 "mark": {"type": "text", "align": "left", "baseline": "middle", "color": "white", "font": "DejaVu Sans", "fontSize": 11},
 "encoding": {
  "x": {"datum": 409.75, "type": "quantitative", "scale": {"domain": [-0.375, 407.875], "nice": false, "zero": false, "padding": 0}, "axis": null},
  "y": {"field": "v", "type": "quantitative", "scale": {"domain": [36.1064, 39.3368], "nice": false, "zero": false, "padding": 0}, "axis": null},
  "text": {"field": "lab"}}},
{"data": {"values": [{"v": 38.098, "lab": "38.098"}]},
 "mark": {"type": "bar", "size": 13, "color": "black"},
 "encoding": {
  "x": {"datum": 408.375, "type": "quantitative", "scale": {"domain": [-0.375, 407.875], "nice": false, "zero": false, "padding": 0}, "axis": null},
  "x2": {"datum": 420.625},
  "y": {"field": "v", "type": "quantitative", "scale": {"domain": [36.1064, 39.3368], "nice": false, "zero": false, "padding": 0}, "axis": null}}},
{"data": {"values": [{"v": 38.098, "lab": "38.098"}]},
 "mark": {"type": "text", "align": "left", "baseline": "middle", "color": "white", "font": "DejaVu Sans", "fontSize": 11},
 "encoding": {
  "x": {"datum": 409.75, "type": "quantitative", "scale": {"domain": [-0.375, 407.875], "nice": false, "zero": false, "padding": 0}, "axis": null},
  "y": {"field": "v", "type": "quantitative", "scale": {"domain": [36.1064, 39.3368], "nice": false, "zero": false, "padding": 0}, "axis": null},
  "text": {"field": "lab"}}},
{"data": {"values": [{"sym": "▼", "t": "SILVER,H1\u00a0\u00a0 38.092 38.101 38.071 38.098"}]},
 "mark": {"type": "text", "align": "left", "baseline": "middle", "color": "black", "font": "DejaVu Sans", "fontSize": 9},
 "encoding": {
  "x": {"datum": 0.375, "type": "quantitative", "scale": {"domain": [-0.375, 407.875], "nice": false, "zero": false, "padding": 0}, "axis": null},
  "y": {"datum": 39.2873, "type": "quantitative", "scale": {"domain": [36.1064, 39.3368], "nice": false, "zero": false, "padding": 0}, "axis": null},
  "text": {"field": "sym"}}},
{"data": {"values": [{"sym": "▼", "t": "SILVER,H1\u00a0\u00a0 38.092 38.101 38.071 38.098"}]},
 "mark": {"type": "text", "align": "left", "baseline": "middle", "color": "black", "font": "DejaVu Sans", "fontSize": 11},
 "encoding": {
  "x": {"datum": 4.125, "type": "quantitative", "scale": {"domain": [-0.375, 407.875], "nice": false, "zero": false, "padding": 0}, "axis": null},
  "y": {"datum": 39.2873, "type": "quantitative", "scale": {"domain": [36.1064, 39.3368], "nice": false, "zero": false, "padding": 0}, "axis": null},
  "text": {"field": "t"}}}
]
}
